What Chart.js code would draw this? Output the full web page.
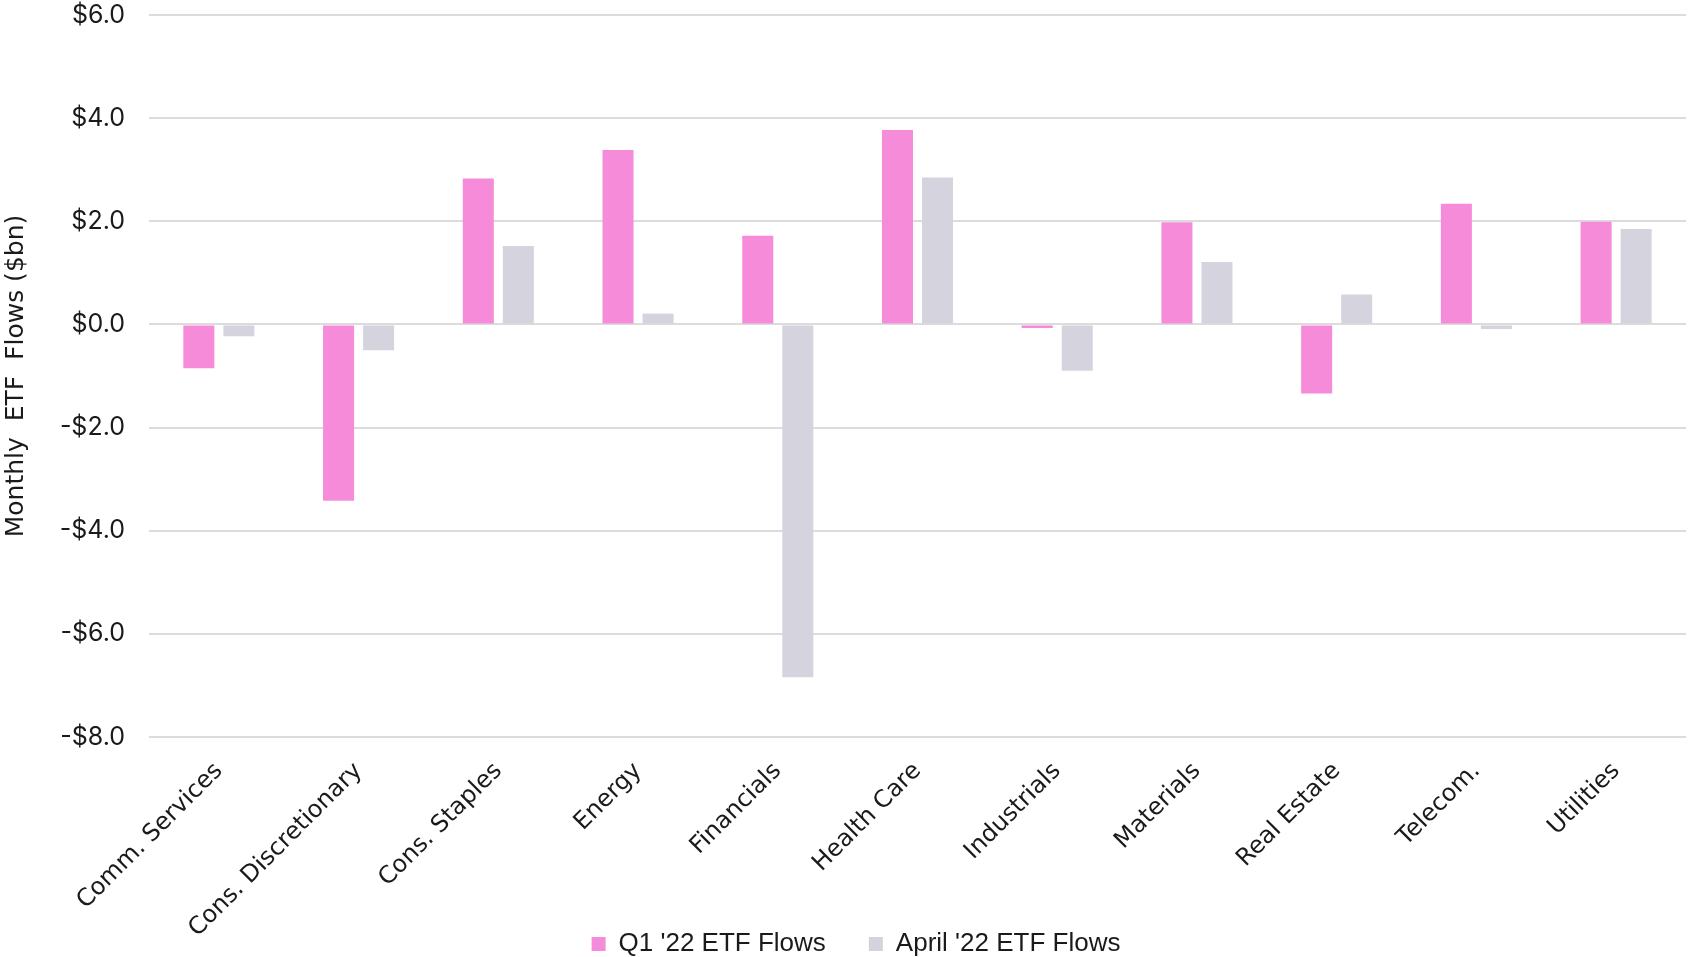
<!DOCTYPE html>
<html>
<head>
<meta charset="utf-8">
<script src="https://cdn.jsdelivr.net/npm/chart.js@4.4.1/dist/chart.umd.min.js"></script>
<style>
  html, body { margin: 0; padding: 0; background: #fff; }
  .chart-container { position: relative; width: 1696px; height: 957px; }
</style>
</head>
<body>
<div class="chart-container">
  <canvas id="myChart"></canvas>
</div>
<script>
// sectors and flows ($bn)
const sectors = ['Comm. Services', 'Cons. Discretionary', 'Cons. Staples', 'Energy', 'Financials',
  'Health Care', 'Industrials', 'Materials', 'Real Estate', 'Telecom.', 'Utilities'];
const q1Flows = [-0.85, -3.42, 2.83, 3.38, 1.72, 3.77, -0.07, 1.98, -1.34, 2.34, 1.99];
const aprilFlows = [-0.23, -0.50, 1.52, 0.21, -6.84, 2.85, -0.90, 1.21, 0.58, -0.09, 1.85];
const seriesNames = ["Q1 '22 ETF Flows", "April '22 ETF Flows"];
const yTicks = [-8, -6, -4, -2, 0, 2, 4, 6];

const textColor = '#1a1a1a';

// the x labels hang down beside the legend, so let them draw past the axis box;
// the legend sits a little right of the page centre
const layoutTweaks = {
  id: 'layoutTweaks',
  afterLayout: function(chart) {
    chart.scales.x.bottom = chart.height;
    chart.legend.left += 13;
    chart.legend.right += 13;
  }
};

const ctx = document.getElementById('myChart').getContext('2d');

new Chart(ctx, {
  type: 'bar',
  data: {
    labels: sectors,
    datasets: [
      {
        label: seriesNames[0],
        data: q1Flows,
        backgroundColor: '#f68bd9',
        borderWidth: 0,
        barPercentage: 0.775,
        categoryPercentage: 0.573
      },
      {
        label: seriesNames[1],
        data: aprilFlows,
        backgroundColor: '#d5d4de',
        borderWidth: 0,
        barPercentage: 0.775,
        categoryPercentage: 0.573
      }
    ]
  },
  plugins: [layoutTweaks],
  options: {
    responsive: true,
    maintainAspectRatio: false,
    devicePixelRatio: 1,
    animation: false,
    layout: {
      padding: { left: 0, right: 10, top: 15, bottom: -10 }
    },
    plugins: {
      tooltip: { enabled: false },
      legend: {
        display: true,
        position: 'bottom',
        labels: {
          boxWidth: 14,
          boxHeight: 14,
          padding: 43,
          color: textColor,
          font: { family: '"Liberation Sans", Arial, sans-serif', size: 26 }
        }
      }
    },
    scales: {
      x: {
        grid: { display: false },
        border: { display: false },
        ticks: {
          autoSkip: false,
          minRotation: 45,
          maxRotation: 45,
          padding: 12,
          color: textColor,
          font: { family: '"DejaVu Sans", sans-serif', size: 24 }
        },
        afterFit: function(scale) { scale.height = 151; }
      },
      y: {
        min: yTicks[0],
        max: yTicks[yTicks.length - 1],
        afterBuildTicks: function(scale) {
          scale.ticks = yTicks.map(v => ({ value: v }));
        },
        grid: { color: '#dcdcdc', lineWidth: 2, drawTicks: false },
        border: { display: false },
        ticks: {
          padding: 24,
          color: textColor,
          font: { family: 'Inter, sans-serif', size: 25 },
          callback: function(v) {
            return (v < 0 ? '-$' : '$') + Math.abs(v).toFixed(1);
          }
        },
        title: {
          display: true,
          text: 'Monthly  ETF  Flows ($bn)',
          color: textColor,
          padding: { top: 1, bottom: 0 },
          font: { family: '"DejaVu Sans", sans-serif', size: 25 }
        },
        afterFit: function(scale) {
          scale.width = 149;
          // tick padding is horizontal here, don't let it push the plot down
          scale.paddingTop = 0;
          scale.paddingBottom = 0;
        }
      }
    }
  }
});
</script>
</body>
</html>
